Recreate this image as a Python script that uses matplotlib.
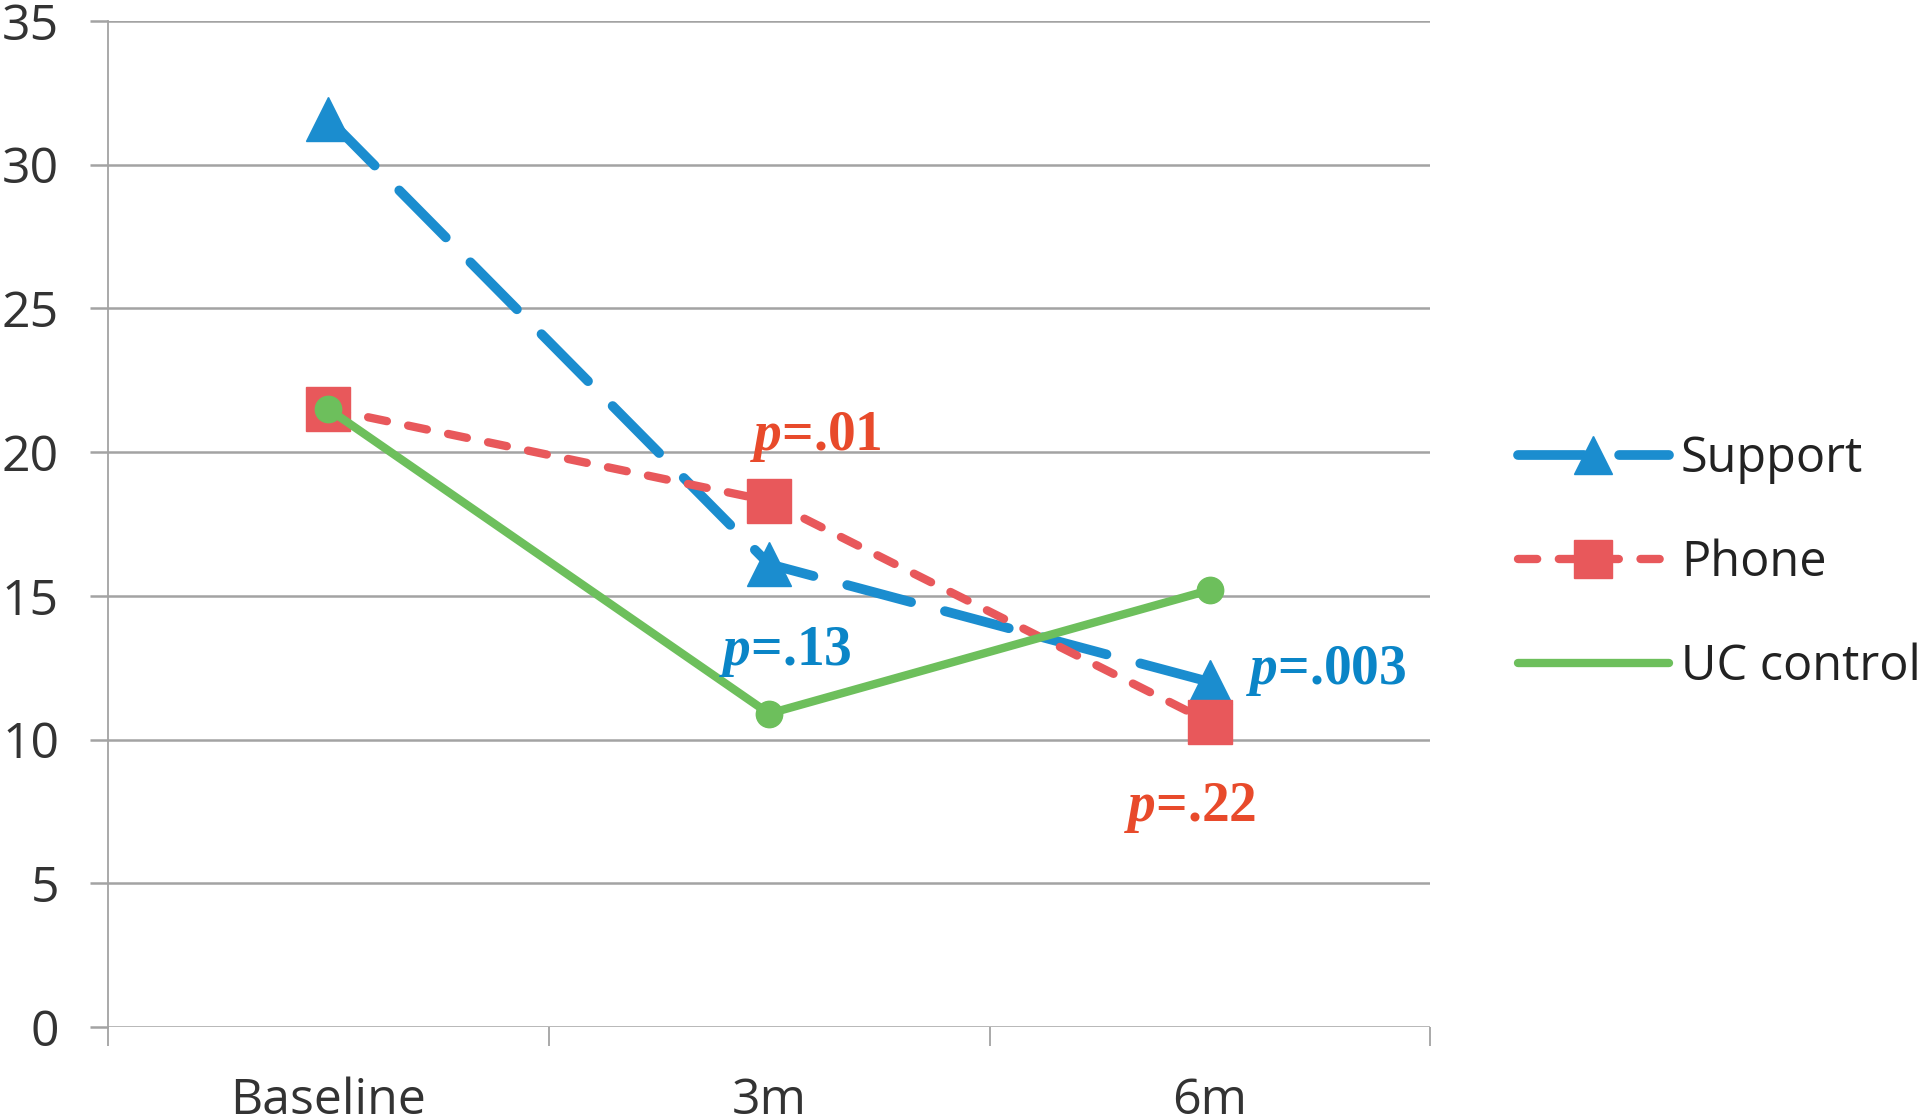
import matplotlib
matplotlib.use("Agg")
import matplotlib.pyplot as plt
from matplotlib.lines import Line2D

# data
timepoints = ["Baseline", "3m", "6m"]
support = [31.6, 16.1, 12.0]
phone = [21.5, 18.3, 10.6]
uc_control = [21.5, 10.9, 15.2]
series_names = ["Support", "Phone", "UC control"]

# p-value labels: (text, series, timepoint index)
p_labels = [("=.01", "Phone", 1), ("=.13", "Support", 1),
            ("=.003", "Support", 2), ("=.22", "Phone", 2)]

plt.rcParams['font.family'] = ['Open Sans', 'DejaVu Sans']
plt.rcParams['mathtext.fontset'] = 'custom'
plt.rcParams['mathtext.it'] = 'Liberation Serif:italic:bold'
plt.rcParams['mathtext.rm'] = 'Liberation Serif:bold'

BLUE = '#1b8dcf'
RED = '#e8585b'
GREEN = '#6dbf5c'
TXT_BLUE = '#0a85c7'
TXT_RED = '#e84a2b'
GRID = '#a3a3a3'

fig = plt.figure(figsize=(19.2, 11.18), dpi=100)
ax = fig.add_axes([0.0561, 0.0814, 0.6889, 0.900])

x = list(range(len(timepoints)))
values = {"Support": support, "Phone": phone, "UC control": uc_control}

blue_style = dict(color=BLUE, lw=7, linestyle=(0, (6.8, 3.6)),
                  dash_capstyle='round')
red_style = dict(color=RED, lw=6, linestyle=(0, (2.3, 2.6)),
                 dash_capstyle='round')
green_style = dict(color=GREEN, lw=6, solid_capstyle='round')

ax.plot(x, support, marker='^', ms=31, mec=BLUE, mfc=BLUE, zorder=3,
        **blue_style)
ax.plot(x, phone, marker='s', ms=31, mec=RED, mfc=RED, zorder=4, **red_style)
ax.plot(x, uc_control, marker='o', ms=19, mec=GREEN, mfc=GREEN, zorder=5,
        **green_style)

# annotations
offsets = {("Phone", 1): (-14, 46), ("Support", 1): (-36, -63),
           ("Support", 2): (26, 8), ("Phone", 2): (-62, -62)}
for txt, name, i in p_labels:
    col = TXT_RED if name == "Phone" else TXT_BLUE
    ax.annotate(r'$p$' + txt, xy=(i, values[name][i]),
                xytext=offsets[(name, i)], textcoords='offset points',
                ha='left', va='center', color=col, fontsize=40,
                fontfamily='Liberation Serif', fontweight='bold', zorder=6)

ax.set_xlim(-0.5, 2.5)
ax.set_ylim(0, 35)
ax.set_yticks(range(0, 36, 5))
ax.yaxis.grid(True, color=GRID, lw=1.8)
ax.set_axisbelow(True)

ax.set_xticks([-0.5, 0.5, 1.5, 2.5])
ax.set_xticklabels([])
ax.set_xticks(x, minor=True)
ax.set_xticklabels(timepoints, minor=True)
ax.tick_params(axis='x', which='major', length=14, width=1.3, color=GRID,
               direction='out')
ax.tick_params(axis='x', which='minor', length=0, pad=36, labelsize=36,
               labelcolor='#333333')
ax.tick_params(axis='y', length=13, width=1.8, color=GRID, pad=22,
               labelsize=36, labelcolor='#333333')

for s in ['top', 'right', 'bottom']:
    ax.spines[s].set_visible(False)
ax.spines['left'].set_color(GRID)
ax.spines['left'].set_linewidth(1.3)

handles = [Line2D([], [], marker='^', ms=27, mec=BLUE, mfc=BLUE, **blue_style),
           Line2D([], [], marker='s', ms=27, mec=RED, mfc=RED, **red_style),
           Line2D([], [], **green_style)]
fig.legend(handles, series_names, loc='center left',
           bbox_to_anchor=(0.7906, 0.4964), frameon=False, fontsize=35,
           handlelength=3.1, handletextpad=0.25, labelspacing=1.12,
           borderaxespad=0, borderpad=0, numpoints=1,
           labelcolor='#222222')

fig.savefig('out.png', dpi=100)
